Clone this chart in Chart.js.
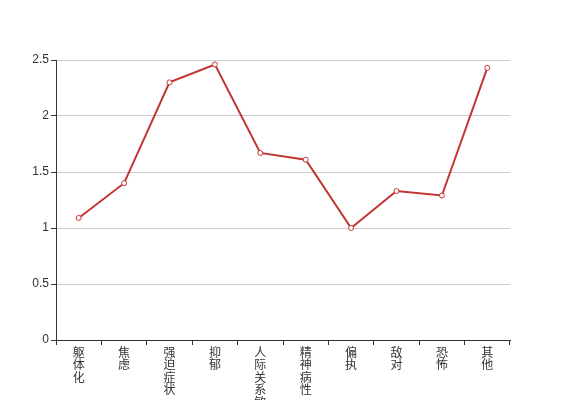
<!DOCTYPE html>
<html><head><meta charset="utf-8">
<script src="https://cdn.jsdelivr.net/npm/chart.js@4/dist/chart.umd.min.js"></script>
<style>html,body{margin:0;padding:0;background:#fff}#wrap{width:567px;height:400px}</style>
</head><body><div id="wrap"><canvas id="c" width="567" height="400"></canvas></div>
<script>
const categories = ['躯体化','焦虑','强迫症状','抑郁','人际关系敏感','精神病性','偏执','敌对','恐怖','其他'];
const values = [1.09, 1.40, 2.30, 2.46, 1.67, 1.61, 1.00, 1.33, 1.29, 2.43];
const yTicks = [0, 0.5, 1, 1.5, 2, 2.5];

const FONT = "'Liberation Sans', 'Noto Sans CJK SC', sans-serif";
new Chart(document.getElementById('c'), {
  type: 'line',
  data: {
    labels: categories.map(s => s.split('')),
    datasets: [{
      data: values,
      borderColor: '#c23531',
      borderWidth: 2,
      backgroundColor: '#fff',
      pointBackgroundColor: '#fff',
      pointBorderColor: '#c23531',
      pointBorderWidth: 1,
      pointRadius: 2.5,
      tension: 0,
      fill: false
    }]
  },
  options: {
    responsive: false,
    animation: false,
    devicePixelRatio: 1,
    layout: { padding: { top: 60, right: 57, left: 0, bottom: 0 } },
    plugins: { legend: { display: false }, tooltip: { enabled: false } },
    scales: {
      x: {
        type: 'category',
        offset: true,
        grid: { offset: true, drawOnChartArea: false, drawTicks: true, tickLength: 5, tickColor: '#333' },
        border: { color: '#333', width: 1 },
        ticks: { color: '#333', font: { family: FONT, size: 12, lineHeight: 1.05 }, maxRotation: 0, minRotation: 0, autoSkip: false, padding: 2 },
        afterFit: s => { s.height = 60; }
      },
      y: {
        min: 0, max: 2.5,
        afterBuildTicks: s => { s.ticks = yTicks.map(v => ({ value: v })); },
        grid: { color: '#ccc', tickColor: '#333', tickLength: 5, drawTicks: true },
        border: { color: '#333', width: 1 },
        ticks: { color: '#333', font: { family: FONT, size: 12 }, padding: 2, callback: v => String(v) },
        afterFit: s => { s.width = 56; }
      }
    }
  }
});
</script></body></html>
